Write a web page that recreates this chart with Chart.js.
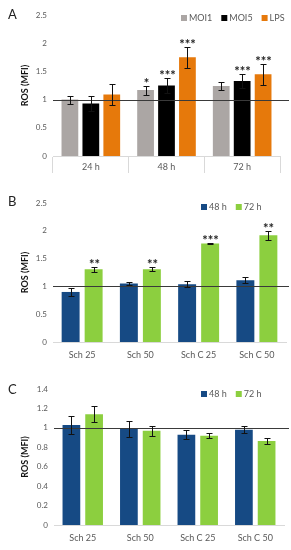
<!DOCTYPE html>
<html lang="en">
<head>
    <meta charset="UTF-8">
    <title>ROS (MFI)</title>
    <script src="https://cdn.jsdelivr.net/npm/chart.js"></script>
    <style>
        body {
            margin: 0;
            padding: 0;
            background: #ffffff;
            font-family: Lato, "Open Sans", sans-serif;
        }

        .page {
            position: relative;
            width: 291px;
            height: 550px;
            overflow: hidden;
        }

        .panel {
            position: absolute;
            left: 0;
            width: 291px;
            height: 185px;
        }

        .letter {
            position: absolute;
            left: 8px;
            font-size: 13px;
            color: #222;
            line-height: 1;
        }
    </style>
</head>
<body>
    <div class="page">
        <div class="panel" style="top:0"><canvas id="chartA"></canvas></div>
        <div class="panel" style="top:185px"><canvas id="chartB"></canvas></div>
        <div class="panel" style="top:365px"><canvas id="chartC"></canvas></div>
        <div class="letter" style="top:8px">A</div>
        <div class="letter" style="top:195px">B</div>
        <div class="letter" style="top:383px">C</div>
    </div>

    <script>
        // Panel A - time points, three treatments
        const timesA = ['24 h', '48 h', '72 h'];
        const moi1 = [1.00, 1.17, 1.24];
        const moi1Err = [0.07, 0.08, 0.07];
        const moi1Stars = ['', '*', ''];
        const moi5 = [0.93, 1.25, 1.33];
        const moi5Err = [0.13, 0.14, 0.13];
        const moi5Stars = ['', '***', '***'];
        const lps = [1.09, 1.75, 1.45];
        const lpsErr = [0.19, 0.19, 0.19];
        const lpsStars = ['', '***', '***'];
        const yTicksA = [0, 0.5, 1, 1.5, 2, 2.5];

        // Panel B
        const samples = ['Sch 25', 'Sch 50', 'Sch C 25', 'Sch C 50'];
        const b48 = [0.90, 1.05, 1.04, 1.11];
        const b48Err = [0.065, 0.03, 0.05, 0.055];
        const b72 = [1.31, 1.31, 1.77, 1.92];
        const b72Err = [0.045, 0.035, 0.01, 0.08];
        const b72Stars = ['**', '**', '***', '**'];
        const yTicksB = [0, 0.5, 1, 1.5, 2, 2.5];

        // Panel C
        const c48 = [1.03, 0.99, 0.93, 0.98];
        const c48Err = [0.095, 0.08, 0.047, 0.036];
        const c72 = [1.14, 0.97, 0.92, 0.865];
        const c72Err = [0.08, 0.05, 0.027, 0.035];
        const yTicksC = [0, 0.2, 0.4, 0.6, 0.8, 1, 1.2, 1.4];

        const textGray = '#595959';
        Chart.defaults.font.family = 'Lato, "Open Sans", sans-serif';
        Chart.defaults.color = textGray;

        // draws the line at 1, error bars, stars and the legend
        function panelPlugin(legendX, legendY) {
            return {
                id: 'panelExtras',
                afterDatasetsDraw(chart) {
                    const ctx = chart.ctx;
                    const y = chart.scales.y;
                    const area = chart.chartArea;
                    ctx.save();

                    const y1 = Math.round(y.getPixelForValue(1)) + 0.5;
                    ctx.strokeStyle = '#3a3a3a';
                    ctx.lineWidth = 1;
                    ctx.beginPath();
                    ctx.moveTo(area.left, y1);
                    ctx.lineTo(chart.width - 2, y1);
                    ctx.stroke();

                    chart.data.datasets.forEach((ds, i) => {
                        const meta = chart.getDatasetMeta(i);
                        meta.data.forEach((bar, j) => {
                            const v = ds.data[j];
                            const e = ds.err[j];
                            const yt = Math.round(y.getPixelForValue(v + e)) + 0.5;
                            const yb = Math.round(y.getPixelForValue(v - e)) + 0.5;
                            const x = Math.round(bar.x) + 0.5;
                            ctx.strokeStyle = '#111';
                            ctx.beginPath();
                            ctx.moveTo(x, yt);
                            ctx.lineTo(x, yb);
                            ctx.moveTo(x - 3, yt);
                            ctx.lineTo(x + 3, yt);
                            ctx.moveTo(x - 3, yb);
                            ctx.lineTo(x + 3, yb);
                            ctx.stroke();
                            if (ds.stars && ds.stars[j]) {
                                ctx.fillStyle = '#222';
                                ctx.font = 'bold 13px Lato, "Open Sans", sans-serif';
                                ctx.textAlign = 'center';
                                ctx.textBaseline = 'alphabetic';
                                ctx.fillText(ds.stars[j], x, yt + 1);
                            }
                        });
                    });

                    // legend
                    let lx = legendX;
                    ctx.font = '9px Lato, "Open Sans", sans-serif';
                    ctx.textAlign = 'left';
                    ctx.textBaseline = 'middle';
                    chart.data.datasets.forEach(ds => {
                        ctx.fillStyle = ds.backgroundColor;
                        ctx.fillRect(lx, legendY - 3, 6, 6);
                        ctx.fillStyle = textGray;
                        ctx.fillText(ds.label, lx + 8, legendY + 0.5);
                        lx += 8 + ctx.measureText(ds.label).width + 9;
                    });
                    ctx.restore();
                }
            };
        }

        function makeChart(id, opts) {
            return new Chart(document.getElementById(id), {
                type: 'bar',
                data: {
                    labels: opts.labels,
                    datasets: opts.datasets
                },
                options: {
                    responsive: true,
                    maintainAspectRatio: false,
                    animation: false,
                    layout: {
                        padding: { top: opts.padTop, right: opts.padRight, left: 0, bottom: 0 }
                    },
                    datasets: {
                        bar: {
                            categoryPercentage: opts.cat,
                            barPercentage: opts.bar
                        }
                    },
                    scales: {
                        x: {
                            grid: opts.xGrid,
                            border: { display: true, color: '#d9d9d9' },
                            ticks: { padding: opts.xPad, font: { size: 9 }, color: textGray },
                            afterFit: s => { s.height = opts.xHeight; }
                        },
                        y: {
                            min: 0,
                            max: opts.yTicks[opts.yTicks.length - 1],
                            grid: { display: false, drawTicks: false },
                            border: { display: false },
                            ticks: {
                                padding: 6,
                                font: { size: 8 },
                                color: textGray,
                                callback: v => String(+Number(v).toFixed(2))
                            },
                            afterBuildTicks: s => { s.ticks = opts.yTicks.map(v => ({ value: v })); },
                            afterFit: s => { s.width = opts.yWidth; },
                            title: {
                                display: true,
                                text: 'ROS (MFI)',
                                color: '#111',
                                font: { size: 9, weight: 'bold' },
                                padding: { top: 20, bottom: 0 }
                            }
                        }
                    },
                    plugins: {
                        legend: { display: false },
                        tooltip: { enabled: false }
                    }
                },
                plugins: [panelPlugin(opts.legendX, opts.legendY)]
            });
        }

        makeChart('chartA', {
            labels: timesA,
            datasets: [
                { label: 'MOI1', data: moi1, err: moi1Err, stars: moi1Stars, backgroundColor: '#aba6a4' },
                { label: 'MOI5', data: moi5, err: moi5Err, stars: moi5Stars, backgroundColor: '#000000' },
                { label: 'LPS', data: lps, err: lpsErr, stars: lpsStars, backgroundColor: '#e6790b' }
            ],
            yTicks: yTicksA,
            padTop: 15, padRight: 11, yWidth: 53, xHeight: 29,
            cat: 0.83, bar: 0.8,
            xGrid: { drawOnChartArea: false, drawTicks: true, tickLength: 17, color: '#d9d9d9', offset: true },
            xPad: -11,
            legendX: 181, legendY: 18
        });

        makeChart('chartB', {
            labels: samples,
            datasets: [
                { label: '48 h', data: b48, err: b48Err, backgroundColor: '#164a84' },
                { label: '72 h', data: b72, err: b72Err, stars: b72Stars, backgroundColor: '#8ccf3f' }
            ],
            yTicks: yTicksB,
            padTop: 18, padRight: 5, yWidth: 53, xHeight: 28,
            cat: 0.79, bar: 0.78,
            xGrid: { display: false, drawTicks: false },
            xPad: 8,
            legendX: 201, legendY: 22
        });

        makeChart('chartC', {
            labels: samples,
            datasets: [
                { label: '48 h', data: c48, err: c48Err, backgroundColor: '#164a84' },
                { label: '72 h', data: c72, err: c72Err, backgroundColor: '#8ccf3f' }
            ],
            yTicks: yTicksC,
            padTop: 24, padRight: 7, yWidth: 54, xHeight: 25,
            cat: 0.79, bar: 0.78,
            xGrid: { display: false, drawTicks: false },
            xPad: 8,
            legendX: 201, legendY: 29
        });
    </script>
</body>
</html>
